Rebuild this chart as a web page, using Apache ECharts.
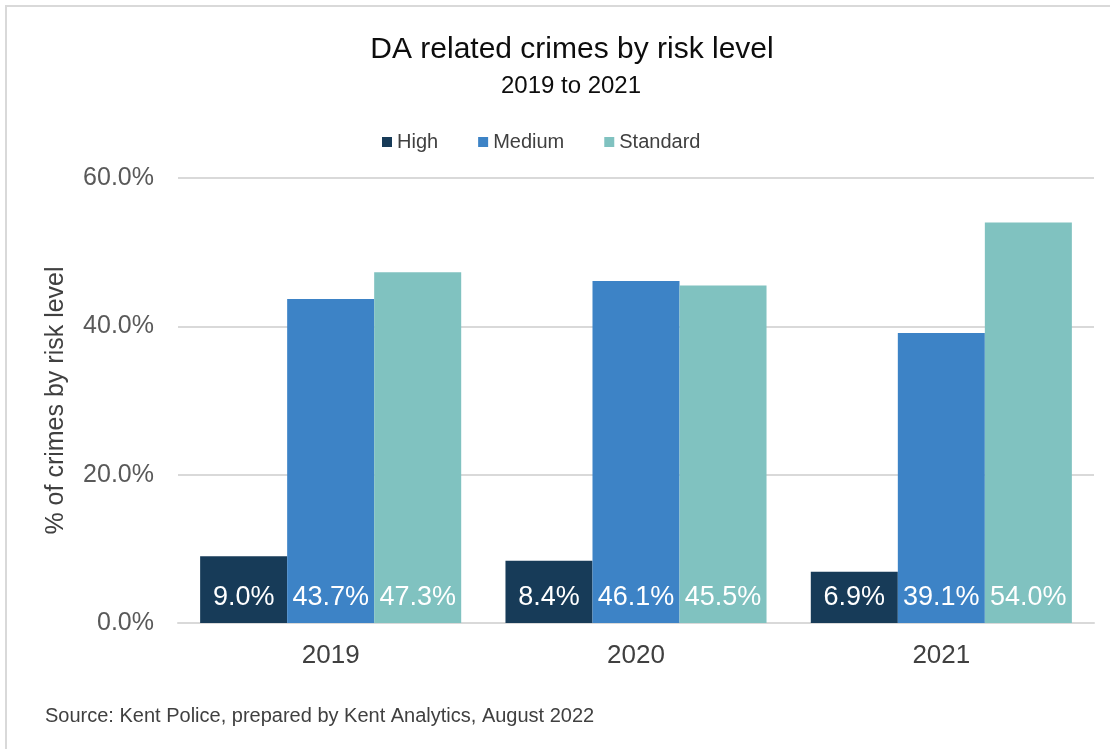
<!DOCTYPE html>
<html>
<head>
<meta charset="utf-8">
<title>DA related crimes by risk level</title>
<script src="https://cdn.jsdelivr.net/npm/echarts@6/dist/echarts.min.js"></script>
<style>
  html, body { margin: 0; padding: 0; background: #ffffff; }
  #chart { width: 1110px; height: 749px; }
</style>
</head>
<body>
<div id="chart"></div>
<script>
// Years on the category axis
const years = ['2019', '2020', '2021'];

// Share of DA related crimes (%) per risk level
const highValues = [9.0, 8.4, 6.9];
const mediumValues = [43.7, 46.1, 39.1];
const standardValues = [47.3, 45.5, 54.0];

const seriesNames = ['High', 'Medium', 'Standard'];
const seriesColors = ['#173b58', '#3d83c6', '#80c2c0'];

// Value axis ticks
const yMin = 0;
const yMax = 60;
const yStep = 20;

const FONT = '"Liberation Sans", Arial, sans-serif';

function barSeries(name, values, color) {
  return {
    name: name,
    type: 'bar',
    data: values,
    barGap: '0%',
    barCategoryGap: '14.5%',
    itemStyle: { color: color },
    label: {
      show: true,
      position: 'insideBottom',
      distance: 12,
      color: '#ffffff',
      fontFamily: FONT,
      fontSize: 27,
      formatter: p => p.value.toFixed(1) + '%'
    }
  };
}

const chart = echarts.init(document.getElementById('chart'), null, { renderer: 'canvas' });

chart.setOption({
  backgroundColor: '#ffffff',
  animation: false,
  title: [
    {
      text: 'DA related crimes by risk level',
      left: 567,
      textAlign: 'center',
      top: 30,
      textStyle: { fontFamily: FONT, fontSize: 30, fontWeight: 'normal', color: '#0d0d0d' }
    },
    {
      text: '2019 to 2021',
      left: 566,
      textAlign: 'center',
      top: 69,
      textStyle: { fontFamily: FONT, fontSize: 24, fontWeight: 'normal', color: '#0d0d0d' }
    }
  ],
  legend: {
    data: seriesNames,
    left: 377,
    top: 127,
    icon: 'rect',
    itemWidth: 10,
    itemHeight: 10,
    itemGap: 40,
    textStyle: { fontFamily: FONT, fontSize: 20, color: '#404040', padding: [0, 0, 0, 0] }
  },
  grid: { left: 178, right: 16, top: 178, bottom: 126, containLabel: false },
  xAxis: {
    type: 'category',
    data: years,
    axisLine: { lineStyle: { color: '#d9d9d9', width: 2 } },
    axisTick: { show: false },
    axisLabel: { fontFamily: FONT, fontSize: 26, color: '#404040', margin: 20 }
  },
  yAxis: {
    type: 'value',
    min: yMin,
    max: yMax,
    interval: yStep,
    name: '% of crimes by risk level',
    nameLocation: 'middle',
    nameGap: 109,
    nameTextStyle: { fontFamily: FONT, fontSize: 25, color: '#404040' },
    axisLine: { show: false },
    axisTick: { show: false },
    splitLine: { lineStyle: { color: '#d9d9d9', width: 2 } },
    axisLabel: {
      fontFamily: FONT,
      fontSize: 25,
      color: '#595959',
      margin: 24,
      formatter: v => v.toFixed(1) + '%'
    }
  },
  series: [
    barSeries(seriesNames[0], highValues, seriesColors[0]),
    barSeries(seriesNames[1], mediumValues, seriesColors[1]),
    barSeries(seriesNames[2], standardValues, seriesColors[2])
  ],
  graphic: [
    {
      type: 'rect',
      silent: true,
      shape: { x: 6, y: 6, width: 1120, height: 760 },
      style: { fill: 'none', stroke: '#d9d9d9', lineWidth: 2 }
    },
    {
      type: 'text',
      left: 45,
      top: 706,
      style: {
        text: 'Source: Kent Police, prepared by Kent Analytics, August 2022',
        font: '20px ' + FONT,
        fill: '#404040'
      }
    }
  ]
});
</script>
</body>
</html>
